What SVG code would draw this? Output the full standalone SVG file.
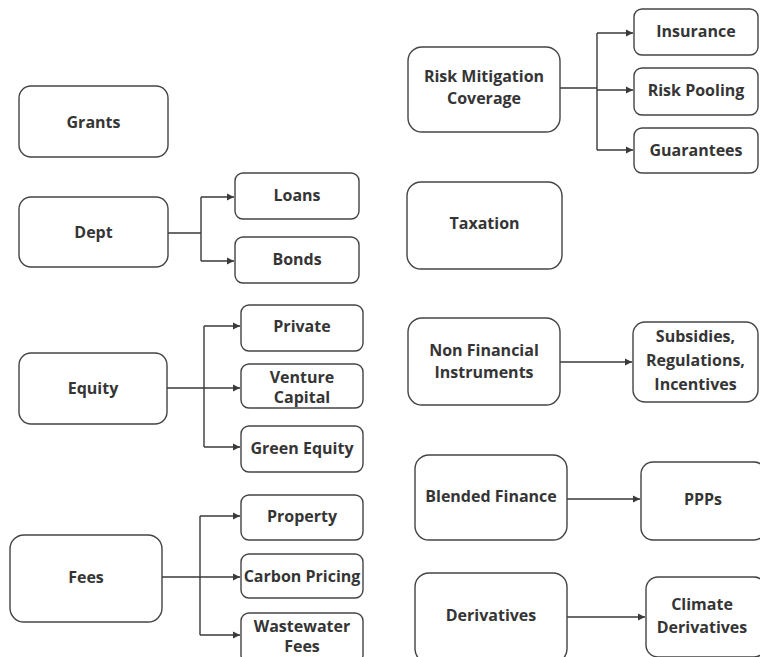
<svg xmlns="http://www.w3.org/2000/svg" width="760" height="657" viewBox="0 0 760 657">
<defs>
<marker id="ah" markerWidth="8" markerHeight="8" refX="7" refY="4" orient="auto" markerUnits="userSpaceOnUse">
<path d="M0,0.5 L7,4 L0,7.5 Z" fill="#3a3a3a"/>
</marker>
<style>
.b{fill:#fff;stroke:#444;stroke-width:1.4}
.t{font-family:"Open Sans","Noto Sans",sans-serif;font-weight:bold;font-size:16px;fill:#353535;text-anchor:middle}
.c{fill:none;stroke:#3a3a3a;stroke-width:1.4}
.a{fill:none;stroke:#3a3a3a;stroke-width:1.4;marker-end:url(#ah)}
</style>
</defs>
<rect width="760" height="657" fill="#fff"/>
<g id="connectors">
<path class="c" d="M168,233 H201 M201,197 V261"/>
<path class="a" d="M201,197 H234"/>
<path class="a" d="M201,261 H234"/>
<path class="c" d="M167,388 H204 M204,326 V447"/>
<path class="a" d="M204,326 H240"/>
<path class="a" d="M204,388 H240"/>
<path class="a" d="M204,447 H240"/>
<path class="c" d="M162,577 H200 M200,516 V635"/>
<path class="a" d="M200,516 H240"/>
<path class="a" d="M200,577 H240"/>
<path class="a" d="M200,635 H240"/>
<path class="c" d="M560,88 H597 M597,33 V150"/>
<path class="a" d="M597,33 H633"/>
<path class="a" d="M597,90 H633"/>
<path class="a" d="M597,150 H633"/>
<path class="a" d="M560,362 H632"/>
<path class="a" d="M567,499 H640"/>
<path class="a" d="M567,617 H645"/>
</g>
<g id="grants"><rect class="b" x="19" y="86" width="149" height="71" rx="12"/><text class="t" x="93.5" y="127.5">Grants</text></g>
<g id="dept"><rect class="b" x="19" y="197" width="149" height="70" rx="12"/><text class="t" x="93.5" y="237.5">Dept</text></g>
<g id="loans"><rect class="b" x="235" y="173" width="124" height="46" rx="8"/><text class="t" x="297" y="201">Loans</text></g>
<g id="bonds"><rect class="b" x="235" y="237" width="124" height="46" rx="8"/><text class="t" x="297" y="265">Bonds</text></g>
<g id="equity"><rect class="b" x="19" y="353" width="148" height="71" rx="12"/><text class="t" x="93" y="394">Equity</text></g>
<g id="private"><rect class="b" x="241" y="305" width="122" height="46" rx="8"/><text class="t" x="302" y="332">Private</text></g>
<g id="venture"><rect class="b" x="241" y="364" width="122" height="44" rx="8"/><text class="t" x="302" y="383">Venture</text><text class="t" x="302" y="403">Capital</text></g>
<g id="green"><rect class="b" x="241" y="426" width="122" height="46" rx="8"/><text class="t" x="302" y="454">Green Equity</text></g>
<g id="fees"><rect class="b" x="10" y="535" width="152" height="87" rx="14"/><text class="t" x="86" y="583">Fees</text></g>
<g id="property"><rect class="b" x="241" y="495" width="122" height="45" rx="8"/><text class="t" x="302" y="522">Property</text></g>
<g id="carbon"><rect class="b" x="241" y="554" width="122" height="44" rx="8"/><text class="t" x="302" y="582">Carbon Pricing</text></g>
<g id="wastewater"><rect class="b" x="241" y="613" width="122" height="50" rx="8"/><text class="t" x="302" y="632">Wastewater</text><text class="t" x="302" y="652">Fees</text></g>
<g id="risk"><rect class="b" x="408" y="47" width="152" height="85" rx="14"/><text class="t" x="484" y="82">Risk Mitigation</text><text class="t" x="484" y="104">Coverage</text></g>
<g id="insurance"><rect class="b" x="634" y="9" width="124" height="46" rx="8"/><text class="t" x="696" y="37">Insurance</text></g>
<g id="pooling"><rect class="b" x="634" y="68" width="124" height="47" rx="8"/><text class="t" x="696" y="96">Risk Pooling</text></g>
<g id="guarantees"><rect class="b" x="634" y="128" width="124" height="45" rx="8"/><text class="t" x="696" y="156">Guarantees</text></g>
<g id="taxation"><rect class="b" x="407" y="182" width="155" height="87" rx="14"/><text class="t" x="484.5" y="229">Taxation</text></g>
<g id="nonfin"><rect class="b" x="408" y="318" width="152" height="87" rx="14"/><text class="t" x="484" y="356">Non Financial</text><text class="t" x="484" y="378">Instruments</text></g>
<g id="subsidies"><rect class="b" x="633" y="322" width="125" height="80" rx="12"/><text class="t" x="695.5" y="342">Subsidies,</text><text class="t" x="695.5" y="366">Regulations,</text><text class="t" x="695.5" y="390">Incentives</text></g>
<g id="blended"><rect class="b" x="415" y="455" width="152" height="85" rx="14"/><text class="t" x="491" y="502">Blended Finance</text></g>
<g id="ppps"><rect class="b" x="641" y="462" width="125" height="78" rx="12"/><text class="t" x="703" y="505">PPPs</text></g>
<g id="derivatives"><rect class="b" x="415" y="573" width="152" height="90" rx="14"/><text class="t" x="491" y="621">Derivatives</text></g>
<g id="climate"><rect class="b" x="646" y="577" width="120" height="80" rx="12"/><text class="t" x="702" y="610">Climate</text><text class="t" x="702" y="633">Derivatives</text></g>
</svg>
